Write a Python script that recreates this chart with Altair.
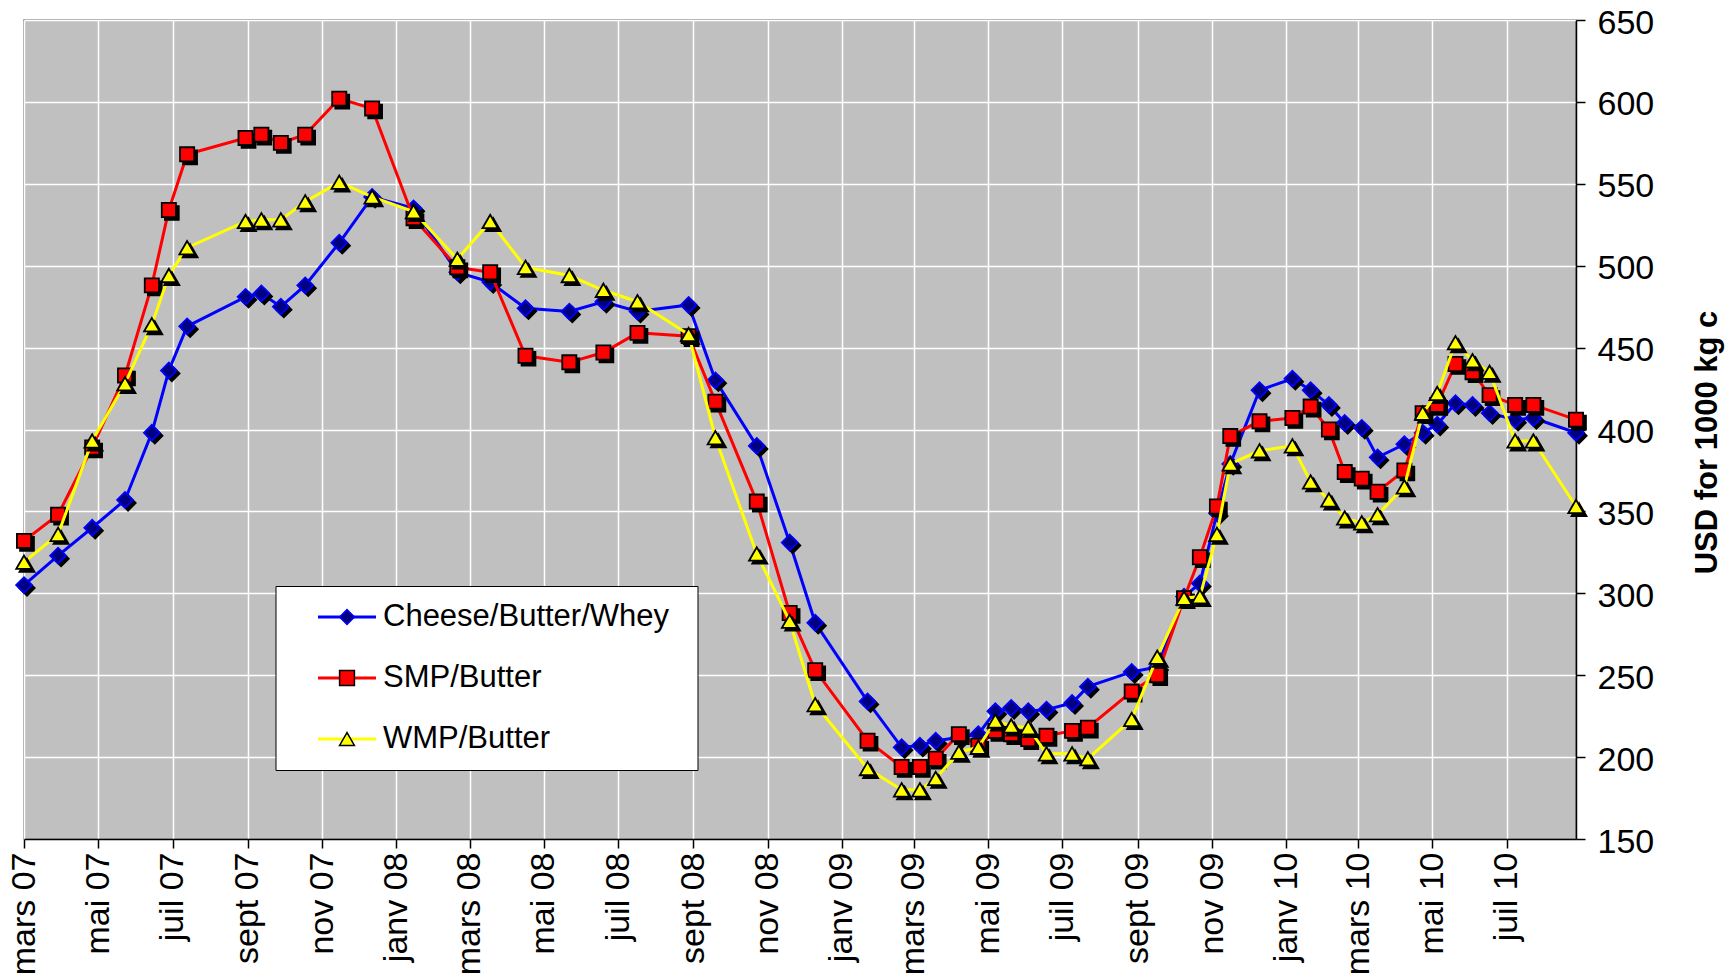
import json
import altair as alt
import pandas as pd

# ---------------- data ----------------
dates = [
    "2007-03-01", "2007-03-29", "2007-04-26", "2007-05-23", "2007-06-14", "2007-06-28",
    "2007-07-13", "2007-08-30", "2007-09-12", "2007-09-28", "2007-10-18", "2007-11-15",
    "2007-12-12",
    "2008-01-15", "2008-02-20", "2008-03-18", "2008-04-16", "2008-05-22", "2008-06-19",
    "2008-07-17", "2008-08-28", "2008-09-19", "2008-10-23", "2008-11-19", "2008-12-10",
    "2009-01-22", "2009-02-19", "2009-03-06", "2009-03-19", "2009-04-07", "2009-04-23",
    "2009-05-07", "2009-05-20", "2009-06-03", "2009-06-18", "2009-07-09", "2009-07-22",
    "2009-08-27", "2009-09-17", "2009-10-09", "2009-10-22", "2009-11-05", "2009-11-16",
    "2009-12-10",
    "2010-01-06", "2010-01-21", "2010-02-05", "2010-02-18", "2010-03-04", "2010-03-17",
    "2010-04-08", "2010-04-23", "2010-05-05", "2010-05-20", "2010-06-03", "2010-06-17",
    "2010-07-08", "2010-07-23", "2010-08-27",
]

cheese_butter_whey = [
    305, 323, 340, 357, 398, 436, 463, 481, 483, 475, 488, 514, 542,
    535, 496, 490, 474, 472, 478, 472, 476, 430, 390, 331, 282,
    234, 206, 207, 210, 212, 214, 228, 230, 228, 229, 233, 243, 252, 255, 298, 306, 349, 379, 424,
    431, 424, 415, 404, 401, 383, 391, 398, 403, 416, 415, 410, 406, 407, 398,
]

smp_butter = [
    332, 348, 389, 433, 488, 534, 568, 578, 580, 575, 580, 602, 596,
    529, 499, 496, 445, 441, 447, 459, 457, 417, 356, 288, 253,
    210, 194, 194, 199, 214, 207, 216, 214, 211, 213, 216, 218, 240, 250, 297, 322, 353, 396, 405,
    407, 414, 400, 374, 370, 362, 375, 410, 415, 440, 435, 421, 415, 415, 406,
]

wmp_butter = [
    319, 336, 393, 428, 464, 494, 511, 527, 528, 528, 539, 551, 542,
    533, 504, 527, 499, 494, 485, 478, 458, 395, 324, 283, 232,
    193, 180, 180, 187, 203, 206, 222, 219, 218, 202, 202, 199, 223, 261, 297, 298, 336, 379, 387,
    390, 368, 357, 346, 343, 348, 365, 410, 422, 453, 442, 435, 393, 393, 353,
]

series_names = ["Cheese/Butter/Whey", "SMP/Butter", "WMP/Butter"]

tick_dates = [
    "2007-03-01", "2007-05-01", "2007-07-01", "2007-09-01", "2007-11-01",
    "2008-01-01", "2008-03-01", "2008-05-01", "2008-07-01", "2008-09-01", "2008-11-01",
    "2009-01-01", "2009-03-01", "2009-05-01", "2009-07-01", "2009-09-01", "2009-11-01",
    "2010-01-01", "2010-03-01", "2010-05-01", "2010-07-01",
]
month_labels = ["janv", "févr", "mars", "avr", "mai", "juin",
                "juil", "août", "sept", "oct", "nov", "déc"]
y_ticks = [150, 200, 250, 300, 350, 400, 450, 500, 550, 600, 650]
y_title = "USD for 1000 kg c"

# ---------------- styling ----------------
line_colors = ["#0000FF", "#FF0000", "#FFFF00"]
marker_fill = ["#000080", "#FF0000", "#FFFF00"]
marker_stroke = ["#0000FF", "#000000", "#000000"]
marker_shapes = ["diamond", "square", "triangle-up"]
marker_sizes = [250, 200, 240]
FONT = "Liberation Sans"

rows = []
for name, vals in zip(series_names, [cheese_butter_whey, smp_butter, wmp_butter]):
    for d, v in zip(dates, vals):
        rows.append({"date": d, "value": v, "series": name, "series_m": name})
df = pd.DataFrame(rows)


def to_dt(s):
    y, m, d = (int(p) for p in s.split("-"))
    return alt.DateTime(year=y, month=m, date=d, utc=True)


label_expr = (json.dumps(month_labels, ensure_ascii=False)
              + "[utcmonth(datum.value)] + ' ' + utcFormat(datum.value, '%y')")

x_enc = alt.X(
    "date:T",
    title=None,
    scale=alt.Scale(type="utc", domain=[to_dt(dates[0]), to_dt(dates[-1])]),
    axis=alt.Axis(
        values=[to_dt(t) for t in tick_dates],
        labelExpr=label_expr,
        labelAngle=270,
        labelAlign="right",
        labelBaseline="middle",
        labelFontSize=34,
        labelPadding=4,
        labelColor="black",
        labelFont=FONT,
        labelOverlap=False,
        tickSize=9,
        tickColor="black",
        tickWidth=1.5,
        domainColor="black",
        domainWidth=1.5,
        grid=True,
        gridColor="white",
        gridWidth=1.5,
    ),
)

y_enc = alt.Y(
    "value:Q",
    scale=alt.Scale(domain=[150, 650], nice=False, zero=False),
    axis=alt.Axis(
        orient="right",
        values=y_ticks,
        title=y_title,
        titleAngle=270,
        titleX=131,
        titleY=422,
        titleAlign="center",
        titleBaseline="middle",
        titleFontSize=31,
        titleFontWeight="bold",
        titleFont=FONT,
        titleColor="black",
        labelFontSize=34,
        labelFont=FONT,
        labelColor="black",
        labelPadding=12,
        labelOffset=3,
        tickSize=9,
        tickColor="black",
        tickWidth=1.5,
        domainColor="black",
        domainWidth=1.5,
        grid=True,
        gridColor="white",
        gridWidth=1.5,
    ),
)

LEG_X, LEG_Y = 251.5, 566

legend_lines = alt.Legend(
    orient="none", legendX=LEG_X, legendY=LEG_Y,
    title="\u00a0", titleOrient="right", titlePadding=12, titleFontSize=31,
    symbolType="stroke", symbolSize=3364, symbolStrokeWidth=3,
    clipHeight=30, rowPadding=30, padding=16,
    labelFontSize=31, labelFont=FONT, labelColor="black", labelLimit=600,
    labelOffset=5.5, symbolOffset=25,
    fillColor="white", strokeColor="black",
)

legend_marks = alt.Legend(
    orient="none", legendX=LEG_X, legendY=LEG_Y, title=None,
    symbolSize=220, symbolStrokeWidth=1.5,
    clipHeight=30, rowPadding=30, padding=16,
    labelFontSize=31, labelFont=FONT, labelExpr="''", labelLimit=600,
    labelOffset=5.5, symbolOffset=40,
)

color_enc = alt.Color("series:N",
                      scale=alt.Scale(domain=series_names, range=line_colors),
                      legend=legend_lines)
shape_enc = alt.Shape("series_m:N", scale=alt.Scale(range=marker_shapes), legend=legend_marks)
fill_enc = alt.Fill("series_m:N", scale=alt.Scale(range=marker_fill), legend=legend_marks)
stroke_enc = alt.Stroke("series_m:N", scale=alt.Scale(range=marker_stroke), legend=legend_marks)

base = alt.Chart(df)
layers = []
for i, name in enumerate(series_names):
    sub = base.transform_filter(alt.datum.series == name)
    line = sub.mark_line(strokeWidth=3).encode(x=x_enc, y=y_enc, color=color_enc)
    shadow = sub.mark_point(
        filled=True, shape=marker_shapes[i], size=marker_sizes[i],
        fill="black", stroke="black", strokeWidth=1.5, opacity=1, xOffset=3, yOffset=3,
    ).encode(x=x_enc, y=y_enc)
    marker = sub.mark_point(
        filled=True, size=marker_sizes[i], strokeWidth=1.8, opacity=1,
    ).encode(x=x_enc, y=y_enc, shape=shape_enc, fill=fill_enc, stroke=stroke_enc)
    layers += [line, shadow, marker]

chart = alt.layer(*layers).properties(
    width=1552,
    height=819,
    autosize=alt.AutoSizeParams(type="none"),
    padding={"left": 16, "top": 12, "right": 150, "bottom": 137},
).configure(
    font=FONT,
    background="white",
).configure_view(
    fill="#C0C0C0", stroke="#808080", strokeWidth=1.5,
)

chart.save("out.html", embed_options={"renderer": "svg", "actions": False})
